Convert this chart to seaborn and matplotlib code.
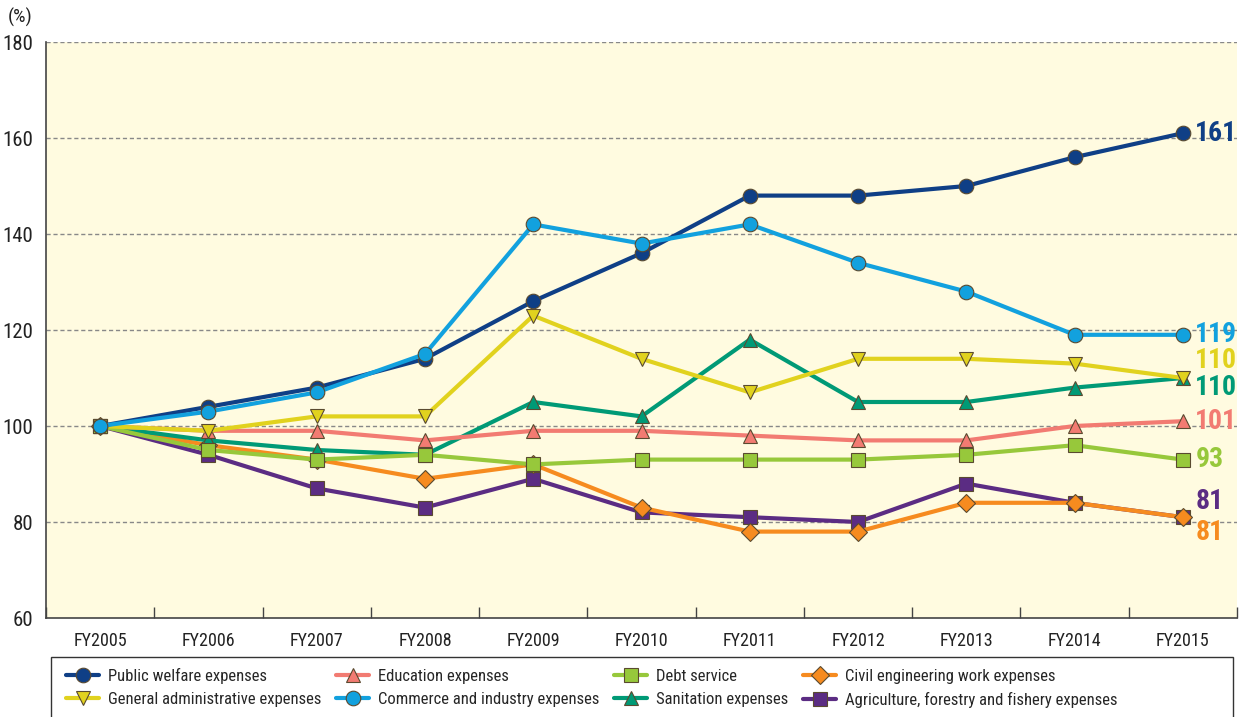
import pandas as pd
import numpy as np
import matplotlib
matplotlib.use("Agg")
import matplotlib.pyplot as plt
import seaborn as sns
from matplotlib.lines import Line2D
from matplotlib.patches import Rectangle
from matplotlib.ticker import FixedLocator

# -----------------------------
# Data (index, FY2005 = 100)
# -----------------------------
years = ["FY2005", "FY2006", "FY2007", "FY2008", "FY2009", "FY2010",
         "FY2011", "FY2012", "FY2013", "FY2014", "FY2015"]

public_welfare = [100, 104, 108, 114, 126, 136, 148, 148, 150, 156, 161]
general_admin = [100, 99, 102, 102, 123, 114, 107, 114, 114, 113, 110]
education = [100, 99, 99, 97, 99, 99, 98, 97, 97, 100, 101]
commerce = [100, 103, 107, 115, 142, 138, 142, 134, 128, 119, 119]
debt_service = [100, 95, 93, 94, 92, 93, 93, 93, 94, 96, 93]
sanitation = [100, 97, 95, 94, 105, 102, 118, 105, 105, 108, 110]
civil_eng = [100, 96, 93, 89, 92, 83, 78, 78, 84, 84, 81]
agriculture = [100, 94, 87, 83, 89, 82, 81, 80, 88, 84, 81]

# legend order (column-major for a 4-column legend)
series_names = [
    "Public welfare expenses",
    "General administrative expenses",
    "Education expenses",
    "Commerce and industry expenses",
    "Debt service",
    "Sanitation expenses",
    "Civil engineering work expenses",
    "Agriculture, forestry and fishery expenses",
]
series_values = [public_welfare, general_admin, education, commerce,
                 debt_service, sanitation, civil_eng, agriculture]

colors = {
    "Public welfare expenses": "#0f3f86",
    "General administrative expenses": "#e1d21e",
    "Education expenses": "#f27b72",
    "Commerce and industry expenses": "#12a1de",
    "Debt service": "#97c83b",
    "Sanitation expenses": "#009a76",
    "Civil engineering work expenses": "#f68b1f",
    "Agriculture, forestry and fishery expenses": "#5b2c83",
}
markers = {
    "Public welfare expenses": "o",
    "General administrative expenses": "v",
    "Education expenses": "^",
    "Commerce and industry expenses": "o",
    "Debt service": "s",
    "Sanitation expenses": "^",
    "Civil engineering work expenses": "D",
    "Agriculture, forestry and fishery expenses": "s",
}
# draw order (bottom to top)
draw_order = [
    "Agriculture, forestry and fishery expenses",
    "Civil engineering work expenses",
    "Sanitation expenses",
    "Education expenses",
    "Debt service",
    "General administrative expenses",
    "Public welfare expenses",
    "Commerce and industry expenses",
]

# vertical nudges for the end-of-line labels so they don't collide
label_offsets = {
    "Public welfare expenses": 0,
    "Commerce and industry expenses": 0,
    "General administrative expenses": 3.6,
    "Sanitation expenses": -1.9,
    "Education expenses": 0,
    "Debt service": 0,
    "Agriculture, forestry and fishery expenses": 3.2,
    "Civil engineering work expenses": -3.2,
}

rows = []
for name, vals in zip(series_names, series_values):
    for i, v in enumerate(vals):
        rows.append({"x": i, "year": years[i], "value": v, "series": name})
df = pd.DataFrame(rows)

# -----------------------------
# Plot
# -----------------------------
sns.set_theme(style="white")
plt.rcParams["font.family"] = ["Roboto Condensed", "IBM Plex Sans Condensed",
                               "Liberation Sans", "DejaVu Sans"]

W, H = 1243, 717
fig = plt.figure(figsize=(W / 100, H / 100), dpi=100)
ax = fig.add_axes([46 / W, 1 - 618 / H, (1237 - 46) / W, (618 - 42) / H])
ax.set_facecolor("#fffbe0")

def msize(m):
    return 9.5 if m == "D" else 10.5

for name in draw_order:
    sub = df[df["series"] == name]
    sns.lineplot(data=sub, x="x", y="value", ax=ax, color=colors[name],
                 linewidth=3, marker=markers[name], markersize=msize(markers[name]),
                 markeredgecolor="#5a4a30", markeredgewidth=0.8, legend=False)

ax.set_xlim(-0.5, 10.5)
ax.set_ylim(60, 180)
ax.set_yticks(np.arange(60, 181, 20))
ax.set_xticks(range(len(years)))
ax.set_xticklabels(years)
ax.xaxis.set_minor_locator(FixedLocator(np.arange(-0.5, 10.6, 1)))
ax.tick_params(axis="x", which="major", length=0, labelsize=13, pad=10, colors="#222222")
ax.tick_params(axis="x", which="minor", direction="in", length=8, width=1,
               color="#444444", bottom=True)
ax.tick_params(axis="y", length=0, labelsize=15, pad=9, colors="#222222")
ax.set_xlabel("")
ax.set_ylabel("")

for y in range(80, 181, 20):
    ax.axhline(y, color="#888888", linestyle=(0, (3, 2)), linewidth=1, zorder=0.5)

for side in ["top", "right"]:
    ax.spines[side].set_visible(False)
for side in ["left", "bottom"]:
    ax.spines[side].set_color("#444444")
    ax.spines[side].set_linewidth(1.2)

fig.text(8 / W, 1 - 17 / H, "(%)", fontsize=14, va="center", ha="left", color="#222222")

# end-of-line value labels
for name, vals in zip(series_names, series_values):
    ax.annotate(str(vals[-1]), xy=(10, vals[-1] + label_offsets[name]),
                xytext=(9, 0), textcoords="offset points",
                va="center", ha="left", fontsize=20, fontweight="bold",
                color=colors[name], annotation_clip=False)

# legend (frameless, box drawn separately so it can be wider than the entries)
handles = [Line2D([0], [0], color=colors[n], linewidth=3, marker=markers[n],
                  markersize=msize(markers[n]),
                  markeredgecolor="#5a4a30", markeredgewidth=0.8)
           for n in series_names]
fig.legend(handles, series_names, loc="upper left",
           bbox_to_anchor=(66 / W, 1 - 668 / H), ncol=4,
           frameon=False, fontsize=12,
           handlelength=2.0, columnspacing=0.9, handletextpad=0.5,
           labelspacing=0.45, borderpad=0, borderaxespad=0)
fig.patches.append(Rectangle((51 / W, -0.05), (1233 - 51) / W, 0.05 + 60 / H,
                             transform=fig.transFigure, fill=False,
                             edgecolor="#333333", linewidth=1))

plt.savefig("out.png", dpi=100, facecolor="white")
